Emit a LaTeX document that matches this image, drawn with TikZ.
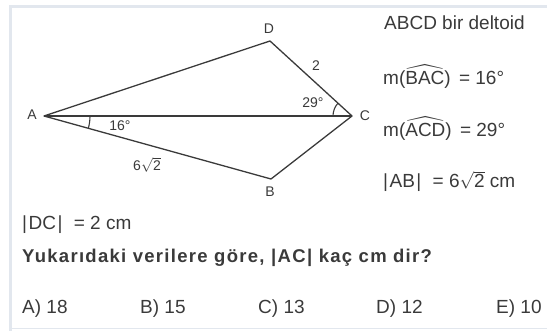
\documentclass[tikz,border=0pt]{standalone}
\usepackage{amsmath}
\usepackage{amssymb}
\usepackage{fontspec}
\setmainfont{Liberation Sans}
\usepackage{tikz}
\definecolor{ink}{RGB}{58,58,58}
\definecolor{frame}{RGB}{226,231,238}

\begin{document}
\begin{tikzpicture}[x=1pt,y=1pt]
\tikzstyle{every node}+=[inner sep=0pt, text=ink]
\tikzstyle{pt}=[font=\fontsize{14}{16}\selectfont]
\tikzstyle{txt}=[anchor=base west, font=\fontsize{19}{22}\selectfont]
\useasboundingbox (0,0) rectangle (547,331);
% frame
\draw [frame, line width=2.5] (547,324.5) -- (10.5,324.5) -- (10.5,0);
\draw [frame, line width=1.5] (10.5,2.5) -- (547,2.5);
% deltoid
\coordinate (A) at (44,215);
\coordinate (D) at (270,290);
\coordinate (C) at (352,215);
\coordinate (B) at (271,152);
\draw [ink, line width=1.3, line join=round] (A) -- (D) -- (C) -- (B) -- cycle;
\draw [ink, line width=1.3] (A) -- (C);
\draw [ink, line width=1.1] ([shift={(0:46)}]A) arc (0:-15.5:46);
\draw [ink, line width=1.1] ([shift={(137.6:19)}]C) arc (137.6:180:19);
\node [pt] (lA) at (32,216) {A};
\node [pt] (lD) at (269,302) {D};
\node [pt] (lC) at (365,215) {C};
\node [pt] (lB) at (270,139) {B};
\node [pt] (l2) at (316,265) {2};
\node [pt] (l29) at (313,228) {29°};
\node [pt] (l16) at (120,205) {16°};
\node [pt] (lab) at (147,166) {6$\sqrt{\text{2}}$};
% given
\node [txt] (g1) at (384,301) {ABCD bir deltoid};
\node [txt] (g2) at (383,246) {m($\widehat{\text{BAC}}$)\hspace{3pt} = 16°};
\node [txt] (g3) at (383,194) {m($\widehat{\text{ACD}}$)\hspace{3pt} = 29°};
\node [txt] (g4) at (383,143) {|\hspace{1.5pt}AB\hspace{1.5pt}|\hspace{6pt} = 6$\sqrt{\text{2}}$ cm};
\node [txt] (g5) at (22,101) {|\hspace{1.5pt}DC\hspace{1.5pt}|\hspace{6pt} = 2 cm};
\node [txt, font=\fontsize{18.5}{22}\selectfont\bfseries\addfontfeature{LetterSpace=7}] (q) at (22,68) {Yukarıdaki verilere göre, |\hspace{1.5pt}AC\hspace{1.5pt}| kaç cm dir?};
% choices
\node [txt] (ca) at (22,17) {A) 18};
\node [txt] (cb) at (140,17) {B) 15};
\node [txt] (cc) at (258,17) {C) 13};
\node [txt] (cd) at (376,17) {D) 12};
\node [txt] (ce) at (496,17) {E) 10};
\end{tikzpicture}
\end{document}
